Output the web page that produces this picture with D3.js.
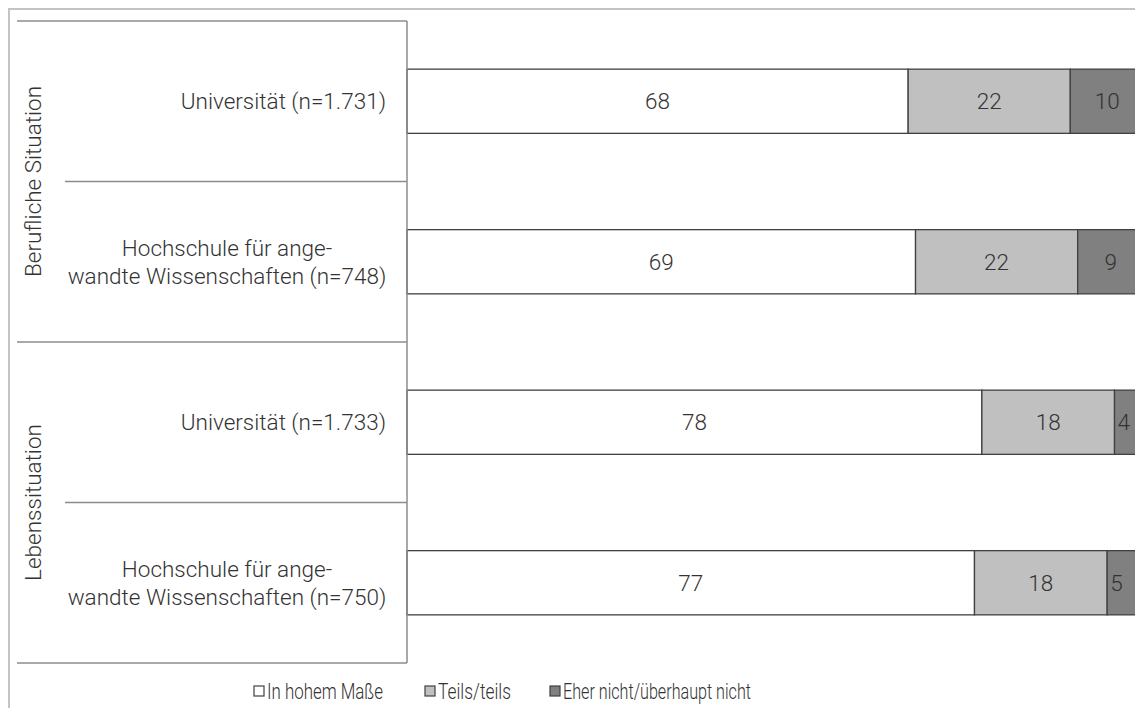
<!DOCTYPE html>
<html>
<head>
<meta charset="utf-8">
<script src="https://cdn.jsdelivr.net/npm/d3@7"></script>
<style>
  html, body { margin: 0; padding: 0; background: #fff; }
  svg { display: block; font-family: Roboto, "Liberation Sans", Arial, sans-serif; font-weight: 300; }
</style>
</head>
<body>
<svg id="chart" width="1135" height="708"></svg>
<script>
// ── Data ──────────────────────────────────────────────────────────────
const groups     = ['Berufliche Situation', 'Lebenssituation'];
const rowGroup   = [0, 0, 1, 1];
const rowLabels  = [
  ['Universität (n=1.731)'],
  ['Hochschule für ange-', 'wandte Wissenschaften (n=748)'],
  ['Universität (n=1.733)'],
  ['Hochschule für ange-', 'wandte Wissenschaften (n=750)']
];
const seriesNames = ['In hohem Maße', 'Teils/teils', 'Eher nicht/überhaupt nicht'];
const hoch   = [68, 69, 78, 77];
const teils  = [22, 22, 18, 18];
const eher   = [10, 9, 4, 5];

const COLORS = ['#ffffff', '#c0c0c0', '#808080'];
const TEXT   = '#333333';
const LINE   = '#8c8c8c';
const FS     = 22.5;

const svg = d3.select('#chart');

// outer frame (cut off on the right, like the source)
svg.append('path')
  .attr('d', 'M9,708 V9 H1135')
  .attr('fill', 'none').attr('stroke', '#c4c4c4').attr('stroke-width', 2);

// ── Scales ────────────────────────────────────────────────────────────
const tableTop = 21, tableBottom = 663, axisX = 407;
const y = d3.scaleBand().domain(d3.range(4)).range([tableTop, tableBottom]).paddingInner(0.6).paddingOuter(0.3);
const x = d3.scaleLinear().domain([0, 100]).range([axisX, 1144]);

const stackData = hoch.map((h, i) => ({ i, hoch: h, teils: teils[i], eher: eher[i] }));
const stack = d3.stack().keys(['hoch', 'teils', 'eher'])(stackData);

// ── Bars ──────────────────────────────────────────────────────────────
stack.forEach((layer, k) => {
  const g = svg.append('g');
  g.selectAll('rect').data(layer).join('rect')
    .attr('x', d => x(d[0]))
    .attr('y', d => y(d.data.i))
    .attr('width', d => x(d[1]) - x(d[0]))
    .attr('height', y.bandwidth())
    .attr('fill', COLORS[k])
    .attr('stroke', '#404040').attr('stroke-width', 1.3);
  g.selectAll('text').data(layer).join('text')
    .attr('x', d => {
      const cx = (x(d[0]) + x(d[1])) / 2;
      return cx > 1125 ? x(d[0]) + 3 : cx;
    })
    .attr('y', d => y(d.data.i) + y.bandwidth() / 2)
    .attr('text-anchor', d => (x(d[0]) + x(d[1])) / 2 > 1125 ? 'start' : 'middle')
    .attr('dominant-baseline', 'central')
    .attr('font-size', FS).attr('fill', TEXT)
    .text(d => d[1] - d[0]);
});

// ── Category table (left) ─────────────────────────────────────────────
const rowStep = (tableBottom - tableTop) / 4;
const table = svg.append('g').attr('stroke', LINE).attr('stroke-width', 1.5);
table.append('line').attr('x1', axisX).attr('x2', axisX).attr('y1', tableTop).attr('y2', tableBottom);
[0, 2, 4].forEach(r => {
  table.append('line').attr('x1', 17).attr('x2', axisX)
    .attr('y1', tableTop + r * rowStep).attr('y2', tableTop + r * rowStep);
});
[1, 3].forEach(r => {
  table.append('line').attr('x1', 65).attr('x2', axisX)
    .attr('y1', tableTop + r * rowStep).attr('y2', tableTop + r * rowStep);
});

// row labels
rowLabels.forEach((lines, i) => {
  const cy = tableTop + (i + 0.5) * rowStep;
  const t = svg.append('text')
    .attr('font-size', FS).attr('fill', TEXT)
    .attr('dominant-baseline', 'central');
  if (lines.length === 1) {
    t.attr('x', 386).attr('y', cy).attr('text-anchor', 'end').text(lines[0]);
  } else {
    lines.forEach((ln, li) => {
      t.append('tspan').attr('x', 227).attr('y', cy + (li - 0.5) * 28)
        .attr('text-anchor', 'middle').text(ln);
    });
  }
});

// group labels (rotated)
groups.forEach((gname, gi) => {
  const rows = rowGroup.map((g, i) => g === gi ? i : -1).filter(i => i >= 0);
  const cy = tableTop + (d3.min(rows) + d3.max(rows) + 1) / 2 * rowStep;
  svg.append('text')
    .attr('transform', `translate(33,${cy}) rotate(-90)`)
    .attr('text-anchor', 'middle').attr('dominant-baseline', 'central')
    .attr('font-size', FS).attr('fill', TEXT)
    .text(gname);
});

// ── Legend (condensed type, as in the source) ─────────────────────────
const legendX = [254, 425, 550];
const legendW = [116, 73, 188];
const legend = svg.append('g');
seriesNames.forEach((name, k) => {
  legend.append('rect')
    .attr('x', legendX[k]).attr('y', 686).attr('width', 10).attr('height', 10)
    .attr('fill', COLORS[k]).attr('stroke', '#404040').attr('stroke-width', 1.2);
  legend.append('text')
    .attr('x', legendX[k] + 13).attr('y', 691)
    .attr('dominant-baseline', 'central')
    .attr('font-size', 22).attr('fill', TEXT)
    .attr('textLength', legendW[k]).attr('lengthAdjust', 'spacingAndGlyphs')
    .text(name);
});
</script>
</body>
</html>
